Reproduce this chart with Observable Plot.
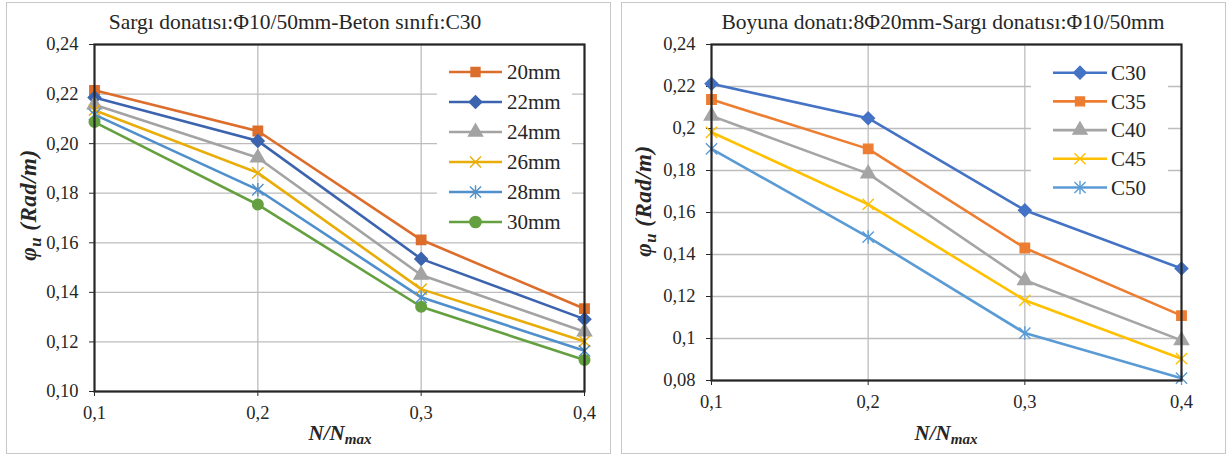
<!DOCTYPE html>
<html>
<head>
<meta charset="utf-8">
<script src="https://cdn.jsdelivr.net/npm/d3@7"></script>
<script src="https://cdn.jsdelivr.net/npm/@observablehq/plot@0.6"></script>
<style>
  body { margin: 0; background: #fff; }
  #root { position: relative; width: 1228px; height: 454px; background: #fff; font-family: "Liberation Serif", "DejaVu Serif", "Noto Serif", serif; color: #262626; overflow: hidden; }
  .box { position: absolute; border: 1.5px solid #C8C8C8; box-sizing: border-box; }
  .abs { position: absolute; white-space: nowrap; transform: translate(-50%, -50%); }
  .title { font-size: 21.5px; color: #262626; }
  .ytitle { font-weight: bold; font-style: italic; font-size: 23px; letter-spacing: 0.5px; transform: translate(-50%, -50%) rotate(-90deg); }
  .xtitle { font-weight: bold; font-style: italic; font-size: 21px; }
  sub { font-size: 0.72em; vertical-align: -0.3em; line-height: 0; }
  .plotwrap { position: absolute; }
  .plotwrap svg { overflow: visible; }
</style>
</head>
<body>
<div id="root"></div>
<script>
// ---------- data ----------
const xValues = [0.1, 0.2, 0.3, 0.4];
const xTickLabels = ["0,1", "0,2", "0,3", "0,4"];

// left chart: Sargı donatısı Φ10/50mm, Beton sınıfı C30
const leftTitle = "Sargı donatısı:Φ10/50mm-Beton sınıfı:C30";
const leftSeries = ["20mm", "22mm", "24mm", "26mm", "28mm", "30mm"];
const left20mm = [0.2215, 0.2051, 0.1612, 0.1334];
const left22mm = [0.2186, 0.2011, 0.1535, 0.1292];
const left24mm = [0.2157, 0.1943, 0.1470, 0.1241];
const left26mm = [0.2135, 0.1882, 0.1413, 0.1202];
const left28mm = [0.2117, 0.1814, 0.1380, 0.1164];
const left30mm = [0.2087, 0.1754, 0.1342, 0.1127];
const leftYTicks = [0.10, 0.12, 0.14, 0.16, 0.18, 0.20, 0.22, 0.24];
const leftYTickLabels = ["0,10", "0,12", "0,14", "0,16", "0,18", "0,20", "0,22", "0,24"];
const leftColors = ["#DC6D2B", "#3C64AE", "#A3A3A3", "#E8AD08", "#4F8FCB", "#64A03F"];
const leftSymbols = ["square", "diamond", "triangle", "times", "asterisk", "circle"];

// right chart: Boyuna donatı 8Φ20mm, Sargı donatısı Φ10/50mm
const rightTitle = "Boyuna donatı:8Φ20mm-Sargı donatısı:Φ10/50mm";
const rightSeries = ["C30", "C35", "C40", "C45", "C50"];
const rightC30 = [0.2213, 0.2049, 0.1611, 0.1333];
const rightC35 = [0.2138, 0.1903, 0.1431, 0.1109];
const rightC40 = [0.2060, 0.1785, 0.1277, 0.0991];
const rightC45 = [0.1982, 0.1639, 0.1182, 0.0904];
const rightC50 = [0.1903, 0.1483, 0.1026, 0.0811];
const rightYTicks = [0.08, 0.10, 0.12, 0.14, 0.16, 0.18, 0.20, 0.22, 0.24];
const rightYTickLabels = ["0,08", "0,1", "0,12", "0,14", "0,16", "0,18", "0,2", "0,22", "0,24"];
const rightColors = ["#4472C4", "#ED7D31", "#A5A5A5", "#FFC000", "#5B9BD5"];
const rightSymbols = ["diamond", "square", "triangle", "times", "asterisk"];

const yAxisTitle = "φ<sub>u</sub> (Rad/m)";
const xAxisTitle = "N/N<sub>max</sub>";

const FONT = "'Liberation Serif', 'DejaVu Serif', 'Noto Serif', serif";

// ---------- helpers ----------
const diamondSq = {
  draw(ctx, size) {
    const r = Math.sqrt(size / 2) * 0.95;
    ctx.moveTo(0, -r); ctx.lineTo(r, 0); ctx.lineTo(0, r); ctx.lineTo(-r, 0); ctx.closePath();
  }
};
const timesBig = {
  draw(ctx, size) {
    const r = Math.sqrt(size) * 0.6;
    ctx.moveTo(-r, -r); ctx.lineTo(r, r); ctx.moveTo(-r, r); ctx.lineTo(r, -r);
  }
};
const asteriskBig = {
  draw(ctx, size) {
    const r = Math.sqrt(size) * 0.6;
    ctx.moveTo(-r, -r); ctx.lineTo(r, r); ctx.moveTo(-r, r); ctx.lineTo(r, -r);
    ctx.moveTo(0, -r * 1.2); ctx.lineTo(0, r * 1.2);
  }
};
const symbolMap = {
  square: d3.symbolSquare, diamond: diamondSq, triangle: d3.symbolTriangle,
  times: timesBig, asterisk: asteriskBig, circle: d3.symbolCircle
};
const symbolSize = {square: 80, diamond: 90, triangle: 85, times: 85, asterisk: 85, circle: 100};

function toRows(series, arrays) {
  const rows = [];
  series.forEach((s, k) => arrays[k].forEach((v, i) => rows.push({series: s, x: xValues[i], y: v})));
  return rows;
}
function fmt(ticks, labels) {
  return d => { const i = ticks.findIndex(t => Math.abs(t - d) < 1e-9); return i >= 0 ? labels[i] : ""; };
}

const root = document.getElementById("root");
function addHTML(cls, left, top, html) {
  const el = document.createElement("div");
  el.className = "abs " + cls;
  el.style.left = left + "px"; el.style.top = top + "px";
  el.innerHTML = html;
  root.appendChild(el);
}
function addBox(left, top, w, h) {
  const el = document.createElement("div");
  el.className = "box";
  Object.assign(el.style, {left: left + "px", top: top + "px", width: w + "px", height: h + "px"});
  root.appendChild(el);
}

function chart(cfg) {
  const data = toRows(cfg.series, cfg.arrays);
  const symObjs = cfg.symbols.map(s => symbolMap[s]);
  const p = Plot.plot({
    width: cfg.width, height: cfg.height,
    marginLeft: cfg.ml, marginRight: cfg.mr, marginTop: cfg.mt, marginBottom: cfg.mb,
    style: {fontFamily: FONT, fontSize: "18.5px", color: "#262626", background: "transparent", overflow: "visible"},
    x: {domain: [0.1, 0.4], ticks: xValues, tickFormat: fmt(xValues, xTickLabels), tickSize: 5, tickPadding: 9, label: null},
    y: {domain: cfg.yDomain, ticks: cfg.yTicks, tickFormat: fmt(cfg.yTicks, cfg.yLabels), tickSize: 5, tickPadding: 11, label: null},
    color: {domain: cfg.series, range: cfg.colors},
    symbol: {domain: cfg.series, range: symObjs},
    marks: [
      Plot.ruleY(cfg.yTicks, {stroke: "#BDBDBD", strokeWidth: 1.3}),
      Plot.ruleX(xValues.slice(1, -1), {stroke: "#BDBDBD", strokeWidth: 1.3}),
      Plot.line(data, {x: "x", y: "y", z: "series", stroke: "series", strokeWidth: 2.6, curve: "linear"}),
      Plot.dot(data, {x: "x", y: "y", symbol: "series", fill: "series", stroke: "series", strokeWidth: 1.4, r: 5.3}),
      Plot.frame({stroke: "#262626", strokeWidth: 2.2})
    ]
  });
  const wrap = document.createElement("div");
  wrap.className = "plotwrap";
  wrap.style.left = cfg.left + "px"; wrap.style.top = "0px";
  wrap.appendChild(p);
  root.appendChild(wrap);

  // legend (white box over the plot, Excel-style)
  const lg = cfg.legend;
  const svg = d3.select(root).append("svg")
    .style("position", "absolute").style("left", lg.x + "px").style("top", lg.y + "px")
    .attr("width", lg.w).attr("height", lg.h);
  svg.append("rect").attr("width", lg.w).attr("height", lg.h).attr("fill", "#fff");
  cfg.series.forEach((s, i) => {
    const cy = lg.row0 + i * lg.step;
    const g = svg.append("g");
    g.append("line").attr("x1", lg.lx1).attr("x2", lg.lx2).attr("y1", cy).attr("y2", cy)
      .attr("stroke", cfg.colors[i]).attr("stroke-width", 2.6);
    g.append("path").attr("transform", `translate(${(lg.lx1 + lg.lx2) / 2},${cy})`)
      .attr("d", d3.symbol(symObjs[i], symbolSize[cfg.symbols[i]])())
      .attr("fill", cfg.colors[i]).attr("stroke", cfg.colors[i]).attr("stroke-width", 1.4);
    g.append("text").attr("x", lg.tx).attr("y", cy).attr("dy", "0.35em")
      .attr("font-family", FONT).attr("font-size", 21)
      .attr("fill", "#262626").text(s);
  });
}

// ---------- panels ----------
addBox(6, 2, 605, 452);
addBox(621, 2, 605, 452);

chart({
  left: 0, width: 614, height: 454, ml: 94, mr: 30, mt: 44, mb: 63,
  series: leftSeries, arrays: [left20mm, left22mm, left24mm, left26mm, left28mm, left30mm],
  yDomain: [0.10, 0.24], yTicks: leftYTicks, yLabels: leftYTickLabels,
  colors: leftColors, symbols: leftSymbols,
  legend: {x: 437, y: 55, w: 135, h: 182, row0: 17, step: 30, lx1: 12, lx2: 65, tx: 70}
});
chart({
  left: 614, width: 614, height: 454, ml: 97, mr: 47, mt: 44, mb: 74,
  series: rightSeries, arrays: [rightC30, rightC35, rightC40, rightC45, rightC50],
  yDomain: [0.08, 0.24], yTicks: rightYTicks, yLabels: rightYTickLabels,
  colors: rightColors, symbols: rightSymbols,
  legend: {x: 1031, y: 55, w: 137, h: 148, row0: 17.7, step: 28.7, lx1: 22, lx2: 76, tx: 80}
});

addHTML("title", 295, 22, leftTitle);
addHTML("title", 943, 22, rightTitle);
addHTML("ytitle", 29, 205, yAxisTitle);
addHTML("ytitle", 644, 201, yAxisTitle);
addHTML("xtitle", 340, 433, xAxisTitle);
addHTML("xtitle", 946, 433, xAxisTitle);
</script>
</body>
</html>
